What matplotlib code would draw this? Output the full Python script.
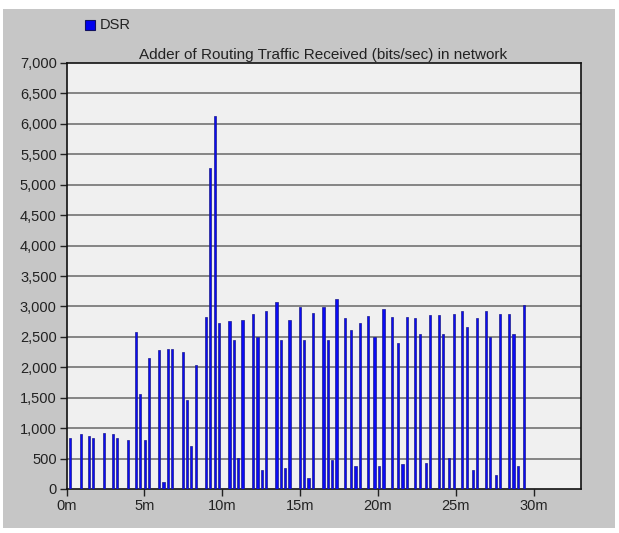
import numpy as np
import matplotlib
matplotlib.use("Agg")
import matplotlib.pyplot as plt
from matplotlib.patches import Rectangle
from matplotlib.ticker import FuncFormatter

plt.rcParams["font.family"] = ["Liberation Sans", "DejaVu Sans"]

# Sample times (minutes) and routing traffic received (bits/sec) for DSR
times = [0.22, 0.91, 1.46, 1.72, 2.41, 2.96, 3.24, 3.93,
         4.46, 4.73, 5.02, 5.29, 5.95, 6.23, 6.51, 6.79,
         7.47, 7.73, 8.01, 8.29, 8.95, 9.22, 9.51, 9.78,
         10.47, 10.74, 11.02, 11.30, 11.98, 12.26, 12.54, 12.82,
         13.48, 13.76, 14.03, 14.32, 14.98, 15.25, 15.54, 15.83,
         16.50, 16.77, 17.05, 17.33, 17.88, 18.27, 18.55, 18.83,
         19.38, 19.77, 20.04, 20.35, 20.90, 21.28, 21.57, 21.84,
         22.40, 22.67, 23.08, 23.36, 23.91, 24.17, 24.58, 24.86,
         25.41, 25.69, 26.09, 26.35, 26.91, 27.18, 27.57, 27.85,
         28.43, 28.70, 28.98, 29.36]
dsr = [840, 900, 875, 830, 925, 900, 830, 810,
       2580, 1555, 810, 2150, 2280, 115, 2300, 2300,
       2255, 1455, 710, 2035, 2830, 5280, 6130, 2730,
       2760, 2445, 503, 2785, 2880, 2505, 305, 2920,
       3070, 2445, 350, 2785, 2985, 2445, 185, 2885,
       2985, 2445, 475, 3120, 2815, 2615, 385, 2720,
       2835, 2500, 380, 2950, 2830, 2405, 405, 2830,
       2810, 2545, 425, 2855, 2855, 2545, 503, 2880,
       2930, 2665, 305, 2810, 2930, 2500, 235, 2880,
       2880, 2545, 385, 3020]

x_ticks = [0, 5, 10, 15, 20, 25, 30]
x_labels = ["0m", "5m", "10m", "15m", "20m", "25m", "30m"]
y_ticks = np.arange(0, 7001, 500)

W, H = 619, 533
fig = plt.figure(figsize=(W / 100, H / 100), dpi=100, facecolor="white")

# grey panel behind everything
fig.patches.append(Rectangle((3 / W, 5 / H), 612 / W, 519 / H,
                             transform=fig.transFigure, facecolor="#c6c6c6",
                             edgecolor="none", zorder=-10))

ax = fig.add_axes([66.5 / W, (H - 489) / H, 514 / W, 426 / H])
ax.set_zorder(1)
ax.set_facecolor("#f0f0f0")

ax.bar(times, dsr, width=0.14, color="#0b0bf5", edgecolor="#1c1c8a",
       linewidth=0.5, zorder=3)

ax.set_xlim(0, 33)
ax.set_ylim(0, 7000)

for y in y_ticks[1:-1]:
    ax.axhline(y, color="#858585", linewidth=1.4, zorder=1)

ax.set_xticks(x_ticks)
ax.set_xticklabels(x_labels)
ax.set_yticks(y_ticks)
ax.yaxis.set_major_formatter(FuncFormatter(lambda v, p: f"{int(v):,}"))
ax.tick_params(axis="both", direction="out", length=5, width=1,
               labelsize=10.5, colors="#222222", pad=2)
for sp in ax.spines.values():
    sp.set_color("#111111")
    sp.set_linewidth(1.2)

ax.set_title("Adder of Routing Traffic Received (bits/sec) in network",
             fontsize=11, color="#222222", pad=3)

# legend
fig.patches.append(Rectangle((85 / W, (H - 30) / H), 10 / W, 10 / H,
                             transform=fig.transFigure, facecolor="#0000ee",
                             edgecolor="#101060", linewidth=0.8, zorder=2))
fig.text(100 / W, (H - 25) / H, "DSR", fontsize=10.5, color="#222222",
         va="center", ha="left")

fig.savefig("out.png", dpi=100, facecolor="white")
